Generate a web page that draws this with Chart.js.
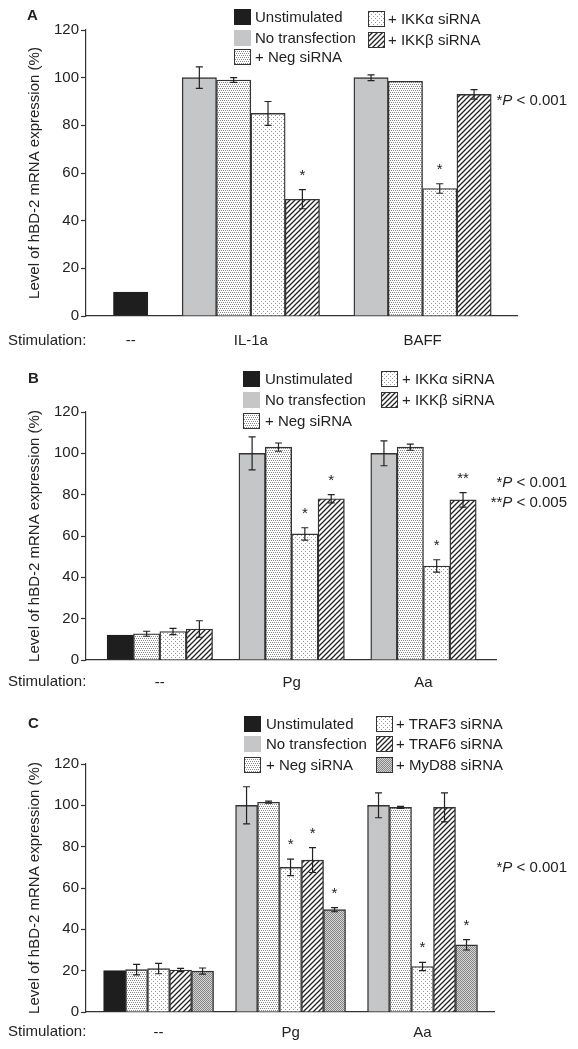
<!DOCTYPE html>
<html>
<head>
<meta charset="utf-8">
<script src="https://cdn.jsdelivr.net/npm/chart.js@4.4.0/dist/chart.umd.min.js"></script>
<style>
body { margin: 0; background: #fff; font-family: "Liberation Sans", Arial, sans-serif; color: #222; }
#wrap { position: relative; width: 578px; height: 1049px; overflow: hidden; }
canvas.panel { position: absolute; left: 0; }
.txt { position: absolute; white-space: nowrap; font-size: 15px; line-height: 18px; }
.letter { font-weight: bold; }
.sw { position: absolute; }
</style>
</head>
<body>
<div id="wrap">
  <canvas id="chartA" class="panel" width="578" height="350" style="top:0px"></canvas>
  <canvas id="chartB" class="panel" width="578" height="350" style="top:350px"></canvas>
  <canvas id="chartC" class="panel" width="578" height="349" style="top:700px"></canvas>
</div>
<script>
// Panel A: IL-1a / BAFF, IKK siRNA
const catsA = ['--', 'IL-1a', 'BAFF'];
const unstimA = [10, null, null];
const noTransA = [null, 100, 100];
const negA = [null, 99, 98.5];
const ikkaA = [null, 85, 53.5];
const ikkbA = [null, 49, 93];
const errNoTransA = [0, 4.5, 1.2];
const errNegA = [0, 1, 0];
const errIkkaA = [0, 5, 2];
const errIkkbA = [0, 4, 2];
const starIkkaA = ['', '', '*'];
const starIkkbA = ['', '*', ''];

// Panel B: Pg / Aa, IKK siRNA
const catsB = ['--', 'Pg', 'Aa'];
const unstimB = [12, null, null];
const noTransB = [null, 100, 100];
const negB = [12.7, 103, 103];
const ikkaB = [13.8, 61, 45.5];
const ikkbB = [15, 78, 77.5];
const errNoTransB = [0, 8, 6];
const errNegB = [1.2, 2, 1.5];
const errIkkaB = [1.5, 3, 3];
const errIkkbB = [4, 2, 3.5];
const starIkkaB = ['', '*', '*'];
const starIkkbB = ['', '*', '**'];

// Panel C: Pg / Aa, TRAF / MyD88 siRNA
const catsC = ['--', 'Pg', 'Aa'];
const unstimC = [20, null, null];
const noTransC = [null, 100, 100];
const negC = [20.5, 101.5, 99];
const traf3C = [21, 70, 22];
const traf6C = [20.3, 73.5, 99];
const myd88C = [19.8, 49.5, 32.5];
const errNoTransC = [0, 9, 6];
const errNegC = [2.5, 0.5, 0.5];
const errTraf3C = [2.5, 4, 2];
const errTraf6C = [0.8, 6, 7];
const errMyd88C = [1.5, 1, 2.5];
const starTraf3C = ['', '*', '*'];
const starTraf6C = ['', '*', ''];
const starMyd88C = ['', '*', '*'];

const yTicks = [0, 20, 40, 60, 80, 100, 120];

Chart.defaults.font.family = '"Liberation Sans", Arial, sans-serif';

// fill patterns
function tile(w, h, draw) {
  const c = document.createElement('canvas');
  c.width = w; c.height = h;
  const g = c.getContext('2d');
  draw(g);
  return document.createElement('canvas').getContext('2d').createPattern(c, 'repeat');
}
const fills = {
  black: '#1e1e1e',
  gray: '#c5c6c8',
  dense: tile(4, 4, g => {
    g.fillStyle = '#fff'; g.fillRect(0, 0, 4, 4);
    g.fillStyle = '#8a8a8a';
    [[0, 0], [2, 0], [1, 2], [3, 2]].forEach(p => g.fillRect(p[0], p[1], 1, 1));
  }),
  sparse: tile(4, 4, g => {
    g.fillStyle = '#fff'; g.fillRect(0, 0, 4, 4);
    g.fillStyle = '#9a9a9a';
    [[1, 1], [3, 3]].forEach(p => g.fillRect(p[0], p[1], 1, 1));
  }),
  hatch: tile(5, 5, g => {
    g.fillStyle = '#fff'; g.fillRect(0, 0, 5, 5);
    g.strokeStyle = '#222'; g.lineWidth = 1.3;
    g.beginPath();
    g.moveTo(-1, 6); g.lineTo(6, -1);
    g.moveTo(-1, 1); g.lineTo(1, -1);
    g.moveTo(4, 6); g.lineTo(6, 4);
    g.stroke();
  }),
  mesh: tile(2, 2, g => {
    g.fillStyle = '#d6d6d6'; g.fillRect(0, 0, 2, 2);
    g.fillStyle = '#858585'; g.fillRect(0, 0, 1, 1); g.fillRect(1, 1, 1, 1);
  })
};

// error bars + significance stars
const errorBars = {
  id: 'errorBars',
  afterDatasetsDraw(chart) {
    const ctx = chart.ctx, y = chart.scales.y;
    ctx.save();
    ctx.strokeStyle = '#222';
    ctx.lineWidth = 1.2;
    ctx.fillStyle = '#222';
    ctx.font = '15px "Liberation Sans", Arial, sans-serif';
    ctx.textAlign = 'center';
    ctx.textBaseline = 'alphabetic';
    chart.data.datasets.forEach((ds, di) => {
      chart.getDatasetMeta(di).data.forEach((bar, i) => {
        const p = ds.data[i];
        let top = y.getPixelForValue(p.y);
        if (p.err) {
          const hi = y.getPixelForValue(p.y + p.err);
          const lo = y.getPixelForValue(p.y - p.err);
          const w = 3.5;
          ctx.beginPath();
          ctx.moveTo(bar.x, hi); ctx.lineTo(bar.x, lo);
          ctx.moveTo(bar.x - w, hi); ctx.lineTo(bar.x + w, hi);
          ctx.moveTo(bar.x - w, lo); ctx.lineTo(bar.x + w, lo);
          ctx.stroke();
          top = Math.min(top, hi);
        }
        if (p.star) ctx.fillText(p.star, bar.x, top - 10);
      });
    });
    ctx.restore();
  }
};

// each present bar gets its own slot, one empty slot between groups
function buildBars(cats, series) {
  let slot = 0;
  const pts = series.map(() => []);
  const centers = [];
  cats.forEach((c, ci) => {
    const first = slot;
    series.forEach((s, si) => {
      if (s.values[ci] == null) return;
      pts[si].push({
        x: slot, y: s.values[ci],
        err: s.errors ? s.errors[ci] : 0,
        star: s.stars ? s.stars[ci] : ''
      });
      slot++;
    });
    centers.push((first + slot - 1) / 2);
    slot++;
  });
  const datasets = series.map((s, si) => ({
    label: s.label,
    data: pts[si],
    backgroundColor: s.fill,
    borderColor: s.fill === fills.black ? s.fill : '#333',
    borderWidth: 1.4,
    grouped: false,
    barPercentage: 1,
    categoryPercentage: 1
  }));
  return { datasets, centers, lastSlot: slot - 2 };
}

function makeChart(id, cfg) {
  const b = buildBars(cfg.cats, cfg.series);
  return new Chart(document.getElementById(id), {
    type: 'bar',
    data: { datasets: b.datasets },
    options: {
      responsive: false,
      animation: false,
      layout: { padding: { left: 0, top: cfg.top, right: 578 - cfg.axisEnd, bottom: 0 } },
      plugins: { legend: { display: false }, tooltip: { enabled: false } },
      scales: {
        x: {
          type: 'linear',
          offset: false,
          min: -1.3,
          max: b.lastSlot + 1.25,
          grid: { display: false },
          border: { display: true, color: '#333', width: 1.2 },
          afterBuildTicks: ax => { ax.ticks = b.centers.map(v => ({ value: v })); },
          afterFit: ax => { ax.height = cfg.xHeight; },
          ticks: {
            autoSkip: false, maxRotation: 0, padding: cfg.labelPad,
            color: '#222', font: { size: 15 },
            callback: (v, i) => cfg.cats[i]
          }
        },
        y: {
          min: 0,
          max: 120,
          afterBuildTicks: ax => { ax.ticks = yTicks.map(v => ({ value: v })); },
          afterFit: ax => { ax.width = 86; },
          ticks: { color: '#222', font: { size: 15 }, padding: 2 },
          grid: { drawOnChartArea: false, tickLength: 5, tickColor: '#333', tickWidth: 1.2 },
          border: { color: '#333', width: 1.2 },
          title: {
            display: true,
            text: 'Level of hBD-2 mRNA expression (%)',
            color: '#222',
            font: { size: 15 },
            padding: { top: 26, bottom: 0 }
          }
        }
      }
    },
    plugins: [errorBars]
  });
}

const seriesA = [
  { label: 'Unstimulated', values: unstimA, fill: fills.black },
  { label: 'No transfection', values: noTransA, errors: errNoTransA, fill: fills.gray },
  { label: '+ Neg siRNA', values: negA, errors: errNegA, fill: fills.dense },
  { label: '+ IKK\u03b1 siRNA', values: ikkaA, errors: errIkkaA, stars: starIkkaA, fill: fills.sparse },
  { label: '+ IKK\u03b2 siRNA', values: ikkbA, errors: errIkkbA, stars: starIkkbA, fill: fills.hatch }
];
const seriesB = [
  { label: 'Unstimulated', values: unstimB, fill: fills.black },
  { label: 'No transfection', values: noTransB, errors: errNoTransB, fill: fills.gray },
  { label: '+ Neg siRNA', values: negB, errors: errNegB, fill: fills.dense },
  { label: '+ IKK\u03b1 siRNA', values: ikkaB, errors: errIkkaB, stars: starIkkaB, fill: fills.sparse },
  { label: '+ IKK\u03b2 siRNA', values: ikkbB, errors: errIkkbB, stars: starIkkbB, fill: fills.hatch }
];
const seriesC = [
  { label: 'Unstimulated', values: unstimC, fill: fills.black },
  { label: 'No transfection', values: noTransC, errors: errNoTransC, fill: fills.gray },
  { label: '+ Neg siRNA', values: negC, errors: errNegC, fill: fills.dense },
  { label: '+ TRAF3 siRNA', values: traf3C, errors: errTraf3C, stars: starTraf3C, fill: fills.sparse },
  { label: '+ TRAF6 siRNA', values: traf6C, errors: errTraf6C, stars: starTraf6C, fill: fills.hatch },
  { label: '+ MyD88 siRNA', values: myd88C, errors: errMyd88C, stars: starMyd88C, fill: fills.mesh }
];

makeChart('chartA', { cats: catsA, series: seriesA, top: 30, axisEnd: 517, xHeight: 34, labelPad: 8 });
makeChart('chartB', { cats: catsB, series: seriesB, top: 62, axisEnd: 496, xHeight: 40, labelPad: 6 });
makeChart('chartC', { cats: catsC, series: seriesC, top: 64, axisEnd: 494, xHeight: 37, labelPad: 4 });

// overlay text: panel letters, legends, stimulation label, p values
const wrap = document.getElementById('wrap');
function addText(str, x, cy, cls, right) {
  const d = document.createElement('div');
  d.className = 'txt' + (cls ? ' ' + cls : '');
  d.innerHTML = str;
  d.style.top = (cy - 9) + 'px';
  if (right) d.style.right = (578 - x) + 'px'; else d.style.left = x + 'px';
  wrap.appendChild(d);
}
function addSwatch(fill, x, cy) {
  const c = document.createElement('canvas');
  c.width = 17; c.height = 16;
  c.className = 'sw';
  c.style.left = x + 'px';
  c.style.top = (cy - 8) + 'px';
  const g = c.getContext('2d');
  g.fillStyle = fill;
  g.fillRect(0, 0, 17, 16);
  if (fill !== fills.black && fill !== fills.gray) {
    g.strokeStyle = '#333'; g.lineWidth = 1;
    g.strokeRect(0.5, 0.5, 16, 15);
  }
  wrap.appendChild(c);
}
function legend(series, cols) {
  let k = 0;
  cols.forEach(col => {
    col.ys.forEach(cy => {
      const s = series[k++];
      addSwatch(s.fill, col.sx, cy);
      addText(s.label, col.tx, cy);
    });
  });
}

addText('A', 27, 15, 'letter');
addText('B', 28, 378, 'letter');
addText('C', 28, 723, 'letter');

legend(seriesA, [{ sx: 234, tx: 255, ys: [16.5, 37.5, 57] }, { sx: 368, tx: 388, ys: [19, 40] }]);
legend(seriesB, [{ sx: 243, tx: 265, ys: [379, 400, 421] }, { sx: 381, tx: 402, ys: [379, 400] }]);
legend(seriesC, [{ sx: 244, tx: 266, ys: [724, 744, 765] }, { sx: 376, tx: 396, ys: [724, 744, 765] }]);

addText('Stimulation:', 8, 340);
addText('Stimulation:', 8, 681);
addText('Stimulation:', 8, 1031);

addText('*<i>P</i> &lt; 0.001', 567, 100, '', true);
addText('*<i>P</i> &lt; 0.001', 567, 482, '', true);
addText('**<i>P</i> &lt; 0.005', 567, 502, '', true);
addText('*<i>P</i> &lt; 0.001', 567, 867, '', true);
</script>
</body>
</html>
